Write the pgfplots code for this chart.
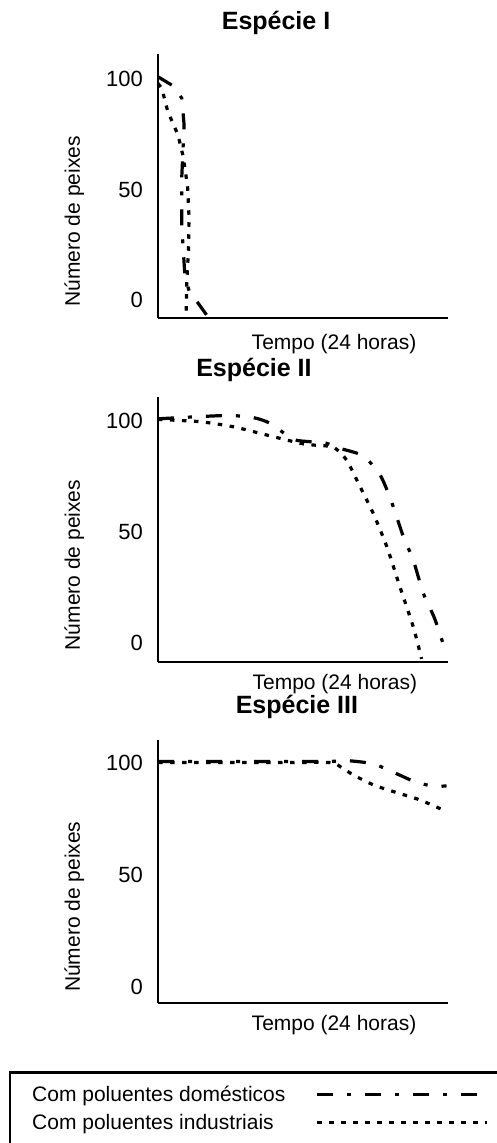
\documentclass[border=0pt]{standalone}
\usepackage{fontspec}
\setmainfont{Liberation Sans}
\usepackage{pgfplots}
\pgfplotsset{compat=1.18}

\tikzset{
  dom/.style={line width=3.2pt, dash pattern=on 16pt off 14pt on 4pt off 14pt},
  ind/.style={line width=3.2pt, dash pattern=on 4.5pt off 7.5pt},
}
\pgfplotsset{
  peixe/.style={
    scale only axis, width=290pt,
    xmin=0, xmax=100,
    axis lines=left,
    axis line style={-, line width=2.5pt},
    xtick=\empty, ytick={0,50,100},
    major tick length=0pt,
    clip=false,
    /pgf/number format/assume math mode=true,
    yticklabel style={font=\fontsize{22}{26}\selectfont, anchor=east, inner sep=0pt, xshift=-15pt},
    xlabel={Tempo (24 horas)},
    ylabel={Número de peixes},
    label style={font=\fontsize{21}{25}\selectfont},
    ylabel style={at={(axis description cs:-0.269,0.366)}, anchor=base},
    title style={font=\fontsize{25}{30}\selectfont\bfseries, anchor=base},
  },
}

\begin{document}
\begin{tikzpicture}
\path[use as bounding box] (0pt,0pt) rectangle (496pt,-1143pt);

% Especie I
\begin{axis}[peixe, at={(158pt,-318pt)}, anchor=south west,
    height=264pt, ymin=-8.1, ymax=111.3,
    title={Espécie I},
    title style={at={(axis description cs:0.407,1)}, yshift=19pt},
    xlabel style={at={(axis description cs:0.607,0)}, anchor=base, yshift=-31pt}]
\addplot[dom] coordinates {
  (0,101) (5.3,96.8) (8.2,91.3) (9.0,79.2) (8.2,55.8) (8.2,33.2)
  (9.3,10.5) (11,3) (13.9,-1.5) (16.8,-6.8)};
\addplot[ind] coordinates {
  (0,98) (1.3,95.8) (3.4,85.2) (6.9,74.7) (8.7,64.8) (10.2,51.3)
  (10.7,37.7) (10.5,22.6) (9.9,7.5) (9.7,-6)};
\end{axis}

% Especie II
\begin{axis}[peixe, at={(158pt,-662pt)}, anchor=south west,
    height=265pt, ymin=-8.4, ymax=110.8,
    title={Espécie II},
    title style={at={(axis description cs:0.331,1)}, yshift=15pt},
    xlabel style={at={(axis description cs:0.61,0)}, anchor=base, yshift=-27pt}]
\addplot[dom, smooth, tension=0.4] coordinates {
  (0,101) (14.5,102) (25,102.5) (33,101.5) (38.6,99) (46.6,91.8)
  (52.4,90.7) (58,90) (62.8,87.7) (70.8,84.3) (76.6,75.7) (80.3,64.5)
  (84.6,48) (88,37.5) (91.5,22.5) (95.5,10.8) (99.5,-5)};
\addplot[ind, smooth, tension=0.4] coordinates {
  (0,100.7) (14.5,99.7) (26,97.4) (37.5,93.7) (49,90) (53.6,89.2)
  (60.5,88.2) (65,82.5) (69.7,70.4) (74.2,58.5) (78.9,43.5) (83.4,25.5)
  (88,7.5) (90.9,-7)};
\end{axis}

% Especie III
\begin{axis}[peixe, at={(158pt,-1003pt)}, anchor=south west,
    height=263pt, ymin=-7.3, ymax=110.4,
    title={Espécie III},
    title style={at={(axis description cs:0.479,1)}, yshift=21pt},
    xlabel style={at={(axis description cs:0.607,0)}, anchor=base, yshift=-27pt},
    legend plot pos=right,
    legend cell align=left,
    legend image code/.code={\draw[#1] (0pt,0pt) -- (170pt,0pt);},
    legend style={at={(axis description cs:-0.514,-0.2586)}, anchor=north west,
      draw=black, line width=2.5pt, inner xsep=20pt, inner ysep=12pt,
      font=\fontsize{21}{25}\selectfont, column sep=28pt, row sep=7pt}]
\addplot[dom, smooth, tension=0.4] coordinates {
  (0,100.8) (20,100.8) (40,100.8) (59,100.8) (65,101.2) (74.3,99.7)
  (82.3,95.3) (88,92) (92,90.5) (96,89.6) (99.5,89.9)};
\addlegendentry{Com poluentes domésticos}
\addplot[ind, smooth, tension=0.4] coordinates {
  (0,100.3) (20,100.3) (40,100.3) (59.3,100.3) (62.8,98.5) (67.3,94.8)
  (74.3,90.3) (81.2,87.3) (90.3,83.6) (99.5,78.4)};
\addlegendentry{Com poluentes industriais}
\end{axis}
\end{tikzpicture}
\end{document}
